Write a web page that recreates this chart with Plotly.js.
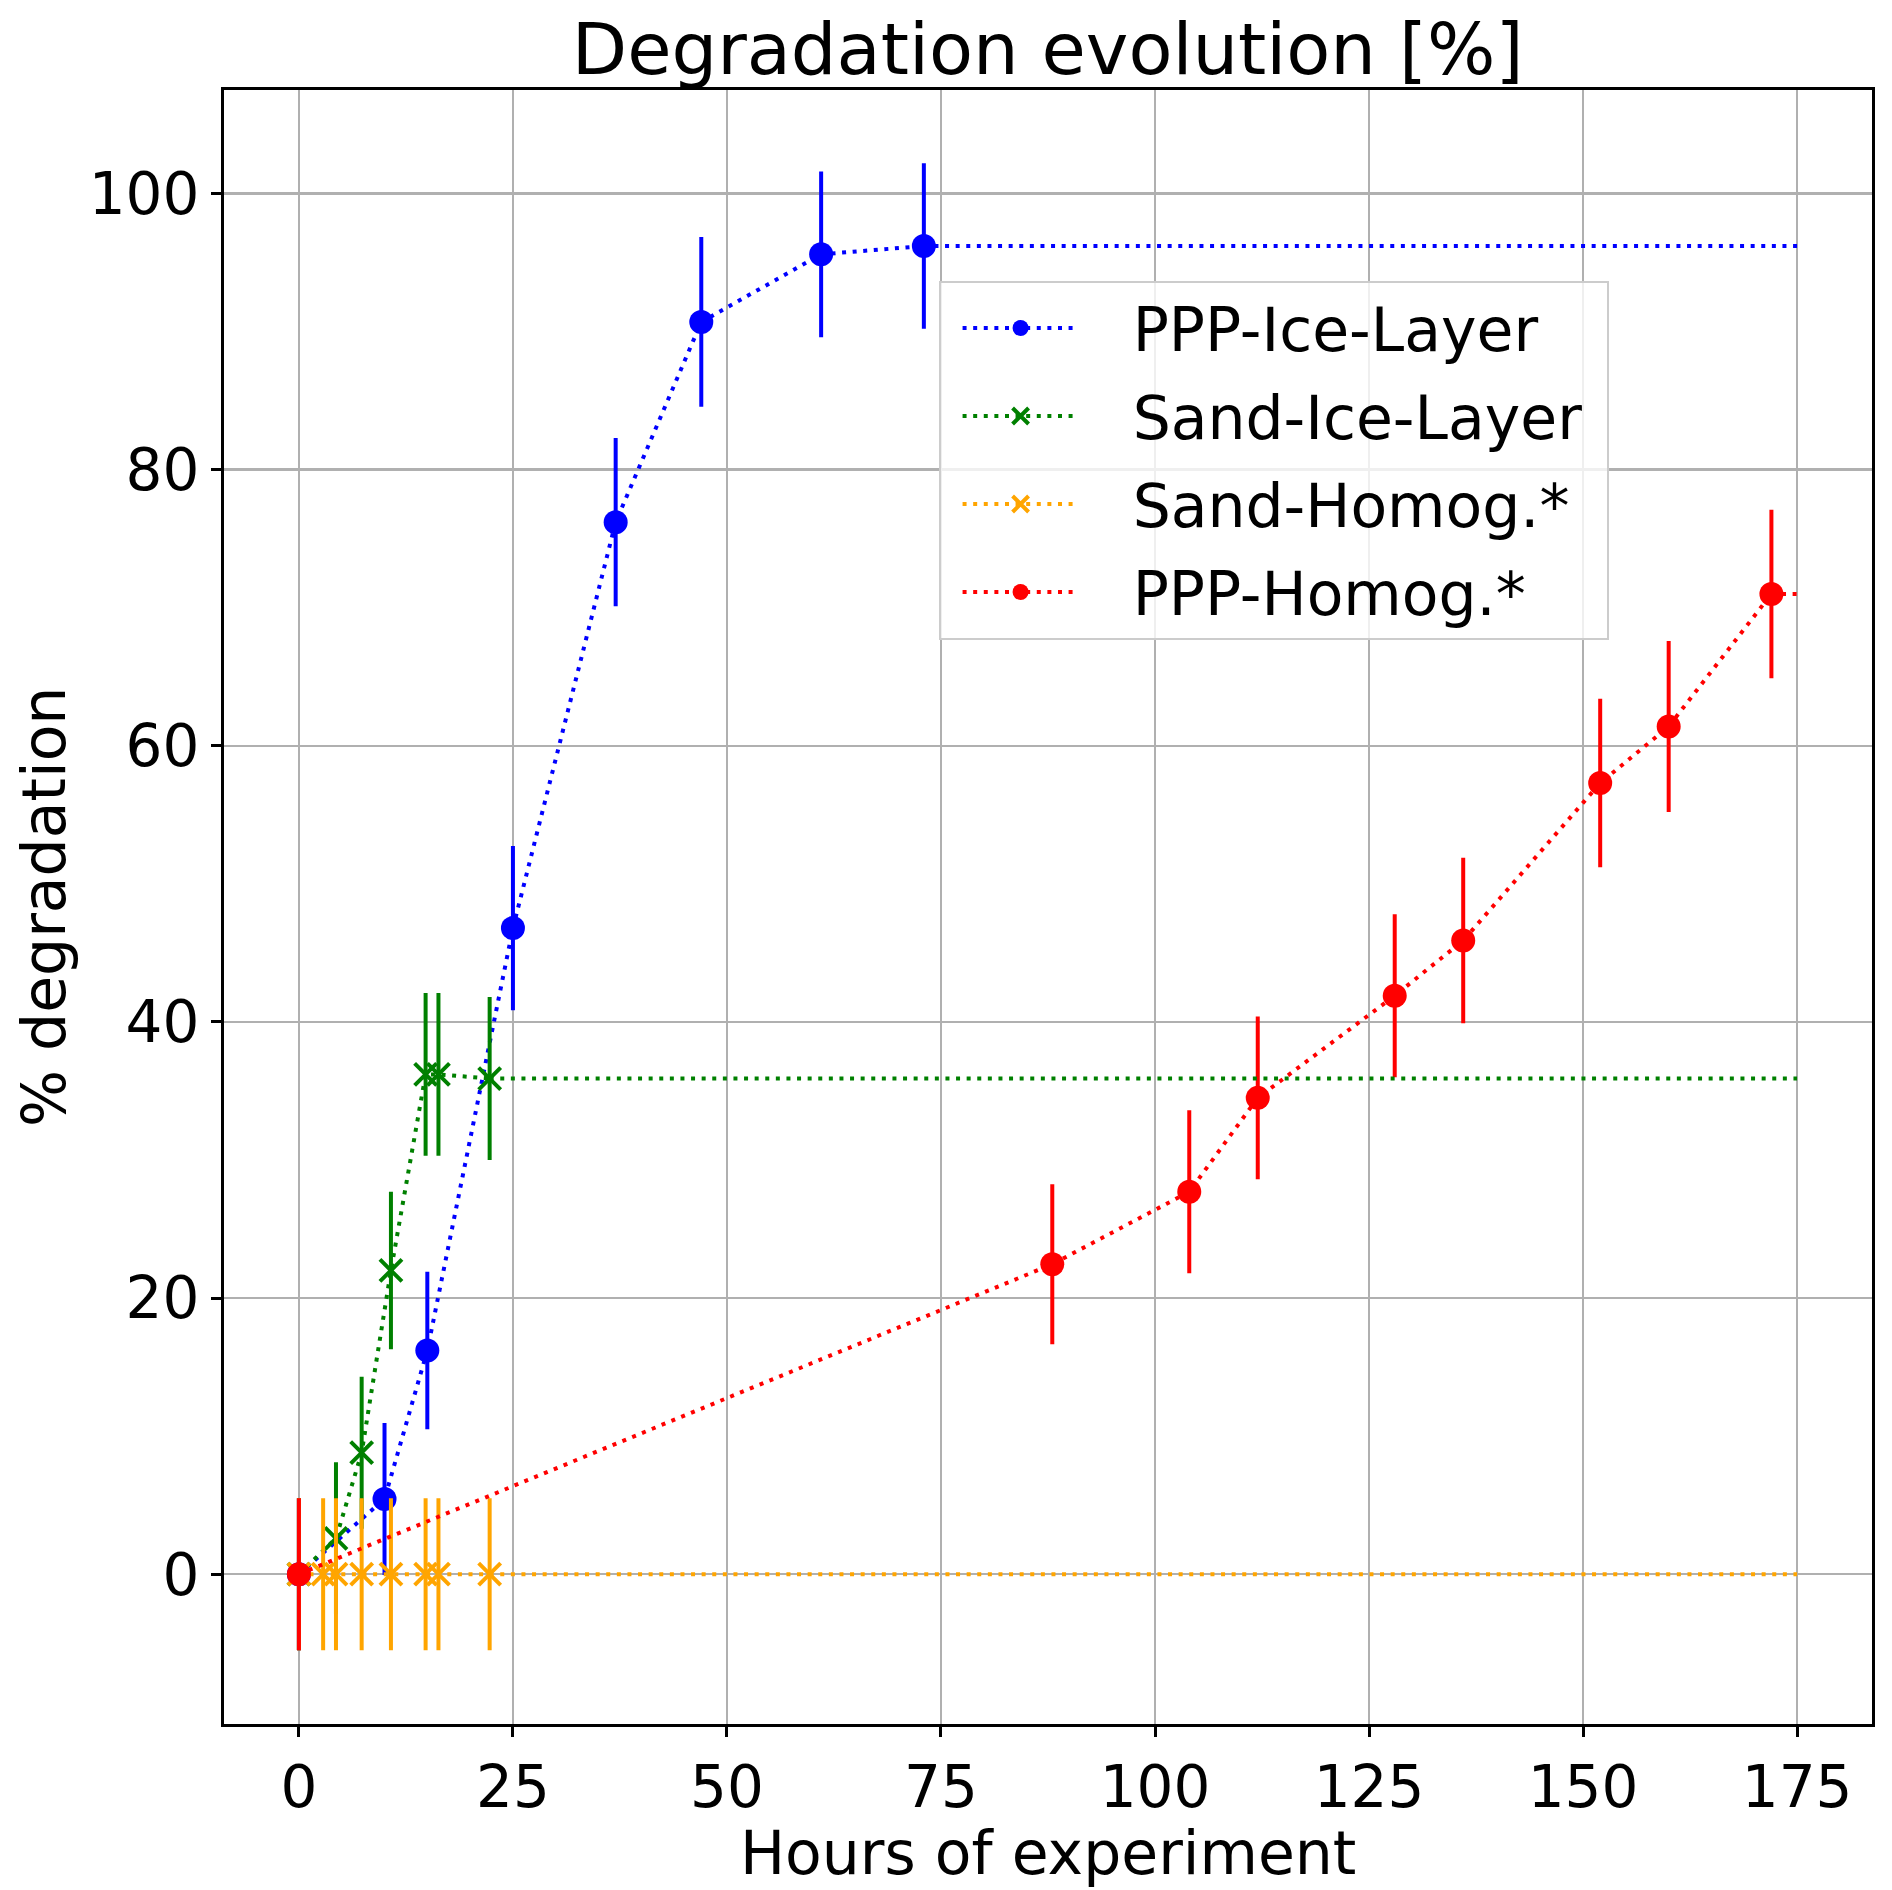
<!DOCTYPE html>
<html><head><meta charset="utf-8">
<script src="https://cdn.plot.ly/plotly-3.0.1.min.js"></script>
<style>html,body{margin:0;padding:0;background:#fff}</style>
</head><body><div id="chart" style="width:1892px;height:1890px"></div>
<script>
// ---- data ----
const seriesNames = ["PPP-Ice-Layer", "Sand-Ice-Layer", "Sand-Homog.*", "PPP-Homog.*"];
const seriesColors = ["#0000ff", "#008000", "#ffa500", "#ff0000"];

const pppIceHours = [0, 10, 15, 25, 37, 47, 61, 73];
const pppIceDeg   = [0, 5.45, 16.2, 46.8, 76.2, 90.7, 95.6, 96.2];
const pppIceErr   = [5.5, 5.5, 5.7, 5.95, 6.1, 6.15, 6.0, 6.0];

const sandIceHours = [0, 4.33, 7.33, 10.75, 14.8, 16.3, 22.28];
const sandIceDeg   = [0, 2.6, 8.8, 22.0, 36.2, 36.2, 35.9];
const sandIceErr   = [5.5, 5.5, 5.5, 5.7, 5.9, 5.9, 5.9];

const sandHomHours = [0, 2.83, 4.33, 7.33, 10.75, 14.8, 16.3, 22.28];
const sandHomDeg   = [0, 0, 0, 0, 0, 0, 0, 0];
const sandHomErr   = [5.5, 5.5, 5.5, 5.5, 5.5, 5.5, 5.5, 5.5];

const pppHomHours = [0, 88, 104, 112, 128, 136, 152, 160, 172];
const pppHomDeg   = [0, 22.45, 27.7, 34.5, 41.9, 45.9, 57.3, 61.4, 71.0];
const pppHomErr   = [5.5, 5.8, 5.9, 5.9, 5.9, 6.0, 6.1, 6.2, 6.1];

const lineEndHour = 175;
const xTickVals = [0, 25, 50, 75, 100, 125, 150, 175];
const yTickVals = [0, 20, 40, 60, 80, 100];

const chartTitle = "Degradation evolution [%]";
const xTitle = "Hours of experiment";
const yTitle = "% degradation";

// ---- styling ----
const FONT = "DejaVu Sans, Liberation Sans, sans-serif";
const DASH = "4px,6.6px";
const LEGEND_PAD = "\u2002\u00a0";

const hoursList = [pppIceHours, sandIceHours, sandHomHours, pppHomHours];
const degList = [pppIceDeg, sandIceDeg, sandHomDeg, pppHomDeg];
const errList = [pppIceErr, sandIceErr, sandHomErr, pppHomErr];
const symbols = ["circle", "x-thin", "x-thin", "circle"];

const traces = [];
for (let i = 0; i < 4; i++) {
  const isX = symbols[i] === "x-thin";
  traces.push({
    type: "scatter", mode: "lines+markers",
    name: LEGEND_PAD + seriesNames[i] + "\u00a0",
    legendgroup: "g" + i,
    x: hoursList[i], y: degList[i],
    line: {color: seriesColors[i], width: 4, dash: DASH},
    marker: isX
      ? {symbol: "x-thin", size: 22, color: seriesColors[i], line: {color: seriesColors[i], width: 4}}
      : {symbol: "circle", size: 24, color: seriesColors[i], line: {width: 0}},
    error_y: {type: "data", array: errList[i], visible: true, color: seriesColors[i], thickness: 4, width: 0},
    cliponaxis: false
  });
}
// dotted continuation of each series up to the end of the experiment
for (let i = 0; i < 4; i++) {
  const h = hoursList[i], d = degList[i];
  traces.push({
    type: "scatter", mode: "lines", showlegend: false, hoverinfo: "skip",
    legendgroup: "g" + i,
    x: [h[h.length - 1], lineEndHour], y: [d[d.length - 1], d[d.length - 1]],
    line: {color: seriesColors[i], width: 4, dash: DASH}
  });
}

const axisCommon = {
  showline: true, linecolor: "#000", linewidth: 3, mirror: true,
  ticks: "outside", ticklen: 10, tickwidth: 3, tickcolor: "#000",
  showgrid: true, gridcolor: "#b0b0b0", gridwidth: 2.5,
  zeroline: false,
  tickfont: {family: FONT, size: 58, color: "#000"}
};

const layout = {
  width: 1892, height: 1890,
  paper_bgcolor: "#fff", plot_bgcolor: "#fff",
  margin: {l: 224, r: 20, t: 90, b: 166, pad: 0},
  font: {family: FONT, color: "#000"},
  title: {text: chartTitle, font: {family: FONT, size: 72, color: "#000"},
          x: 0.5537, xanchor: "center", y: 1 - 74 / 1890, yanchor: "bottom", yref: "container"},
  xaxis: Object.assign({}, axisCommon, {
    range: [-8.75, 183.75], tickvals: xTickVals, ticktext: xTickVals.map(String)
  }),
  yaxis: Object.assign({}, axisCommon, {
    range: [-10.85, 107.5], tickvals: yTickVals, ticktext: yTickVals.map(String)
  }),
  annotations: [
    {text: xTitle, xref: "paper", yref: "paper", x: 0.5, y: 0, xanchor: "center", yanchor: "top",
     yshift: -92, showarrow: false, font: {family: FONT, size: 60, color: "#000"}},
    {text: yTitle, xref: "paper", yref: "paper", x: 0, y: 0.5, xanchor: "right", yanchor: "middle",
     xshift: -143, textangle: -90, showarrow: false, font: {family: FONT, size: 60, color: "#000"}}
  ],
  showlegend: true,
  legend: {
    x: 0.4336, y: 0.8834, xanchor: "left", yanchor: "top",
    bgcolor: "rgba(255,255,255,0.8)", bordercolor: "#cccccc", borderwidth: 2,
    font: {family: FONT, size: 60, color: "#000"},
    itemwidth: 116, indentation: 17, tracegroupgap: 7, traceorder: "grouped"
  }
};

Plotly.newPlot("chart", traces, layout, {displayModeBar: false, staticPlot: true});
</script>
</body></html>
